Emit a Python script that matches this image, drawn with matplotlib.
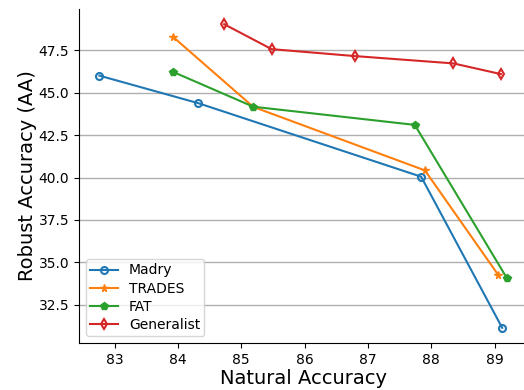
import matplotlib
matplotlib.use("Agg")
import matplotlib.pyplot as plt

# natural accuracy / robust accuracy (AA) for each method
madry_nat = [82.76, 84.32, 87.84, 89.12]
madry_rob = [46.0, 44.38, 40.05, 31.15]

trades_nat = [83.93, 85.19, 87.90, 89.06]
trades_rob = [48.26, 44.16, 40.42, 34.25]

fat_nat = [83.93, 85.19, 87.74, 89.19]
fat_rob = [46.21, 44.17, 43.1, 34.1]

gen_nat = [84.73, 85.48, 86.80, 88.35, 89.10]
gen_rob = [49.03, 47.56, 47.15, 46.72, 46.09]

fig = plt.figure(figsize=(5.24, 3.9), dpi=100)
ax = fig.add_axes([79 / 524, 47 / 390, 448 / 524, 334 / 390])

ax.plot(madry_nat, madry_rob, marker='o', fillstyle='none', markersize=5, markeredgewidth=1.5, label='Madry')
ax.plot(trades_nat, trades_rob, marker='*', markersize=5.5, label='TRADES')
ax.plot(fat_nat, fat_rob, marker='p', markersize=6, label='FAT')
ax.plot(gen_nat, gen_rob, marker='d', fillstyle='none', markersize=5, markeredgewidth=1.5, label='Generalist')

ax.grid(axis='y', color='#b0b0b0', linewidth=1)
ax.set_axisbelow(True)
ax.spines['top'].set_visible(False)
ax.spines['right'].set_visible(False)
ax.set_xticks([83, 84, 85, 86, 87, 88, 89])
ax.set_yticks([32.5, 35.0, 37.5, 40.0, 42.5, 45.0, 47.5])
ax.set_xlabel('Natural Accuracy', fontsize=14, labelpad=2)
ax.set_ylabel('Robust Accuracy (AA)', fontsize=14, labelpad=1)
ax.legend(loc='lower left', labelspacing=0.3, borderpad=0.3, handletextpad=0.8)

plt.savefig('out.png', dpi=100)
